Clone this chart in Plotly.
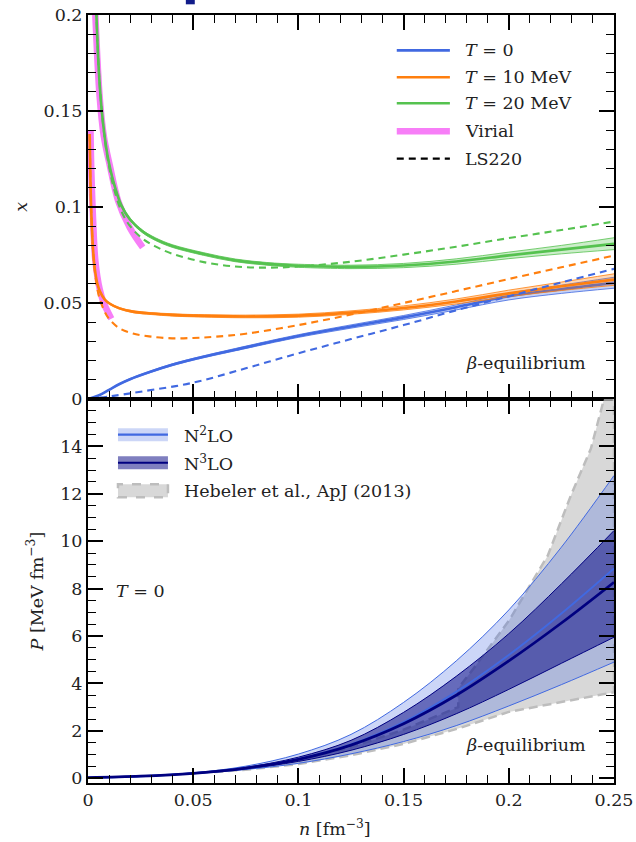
import plotly.graph_objects as go

# ---------------- upper panel: proton fraction x(n) ----------------
# T = 0
n_t0 = [0, 0.005, 0.01, 0.015, 0.02, 0.03, 0.04, 0.05, 0.07, 0.1, 0.125, 0.15, 0.175, 0.2, 0.225, 0.25]
x_t0 = [0, 0.0018, 0.0048, 0.0078, 0.0103, 0.0143, 0.0178, 0.0207, 0.0257, 0.0328, 0.0378, 0.0425, 0.0478, 0.0535, 0.0572, 0.0605]
x_t0_lo = [0, 0.0017, 0.0046, 0.0075, 0.0100, 0.0139, 0.0173, 0.0202, 0.0251, 0.0321, 0.0369, 0.0414, 0.0464, 0.0516, 0.0550, 0.0577]
x_t0_hi = [0, 0.0019, 0.0050, 0.0081, 0.0107, 0.0147, 0.0183, 0.0212, 0.0263, 0.0335, 0.0386, 0.0435, 0.0490, 0.0551, 0.0593, 0.0634]

# T = 10 MeV
n_t10 = [0.0008, 0.0012, 0.0016, 0.0024, 0.0032, 0.0045, 0.0056, 0.008, 0.0104, 0.015, 0.0213, 0.03, 0.04, 0.05, 0.075, 0.1, 0.125, 0.15, 0.175, 0.2, 0.225, 0.25]
x_t10 = [0.138, 0.112, 0.096, 0.0780, 0.0680, 0.0598, 0.0562, 0.0518, 0.0496, 0.0472, 0.0455, 0.0445, 0.0438, 0.0434, 0.0430, 0.0434, 0.0450, 0.0474, 0.0508, 0.0550, 0.0587, 0.0622]
x_t10_lo = [0.138, 0.112, 0.096, 0.0779, 0.0678, 0.0596, 0.0559, 0.0515, 0.0492, 0.0468, 0.0450, 0.0440, 0.0432, 0.0428, 0.0423, 0.0426, 0.0441, 0.0464, 0.0495, 0.0533, 0.0565, 0.0592]
x_t10_hi = [0.138, 0.112, 0.096, 0.0781, 0.0682, 0.0600, 0.0565, 0.0521, 0.0500, 0.0476, 0.0460, 0.0450, 0.0444, 0.0440, 0.0437, 0.0442, 0.0459, 0.0485, 0.0521, 0.0567, 0.0609, 0.0652]

# T = 20 MeV
n_t20 = [0.0036, 0.004, 0.005, 0.0063, 0.008, 0.0095, 0.012, 0.0158, 0.02, 0.026, 0.032, 0.04, 0.055, 0.07, 0.085, 0.1, 0.125, 0.15, 0.175, 0.2, 0.225, 0.25]
x_t20 = [0.215, 0.200, 0.174, 0.153, 0.136, 0.1255, 0.1135, 0.1010, 0.0935, 0.0872, 0.0833, 0.0797, 0.0755, 0.0722, 0.0704, 0.0694, 0.0688, 0.0695, 0.0716, 0.0748, 0.0778, 0.0808]
x_t20_lo = [0.215, 0.200, 0.173, 0.152, 0.135, 0.1248, 0.1128, 0.1003, 0.0928, 0.0865, 0.0826, 0.0790, 0.0748, 0.0715, 0.0697, 0.0686, 0.0679, 0.0684, 0.0702, 0.0731, 0.0756, 0.0778]
x_t20_hi = [0.215, 0.200, 0.175, 0.154, 0.137, 0.1262, 0.1142, 0.1017, 0.0942, 0.0879, 0.0840, 0.0804, 0.0762, 0.0729, 0.0711, 0.0702, 0.0697, 0.0706, 0.0730, 0.0765, 0.0800, 0.0840]

# LS220
n_ls0 = [0, 0.01, 0.025, 0.05, 0.075, 0.1, 0.125, 0.15, 0.175, 0.2, 0.225, 0.25]
x_ls0 = [0, 0.0013, 0.0038, 0.0085, 0.0160, 0.0238, 0.0312, 0.0385, 0.0462, 0.0535, 0.0607, 0.0678]
n_ls10 = [0.0008, 0.0012, 0.0016, 0.0024, 0.0032, 0.0045, 0.0056, 0.008, 0.0104, 0.015, 0.0213, 0.03, 0.04, 0.05, 0.06, 0.075, 0.1, 0.125, 0.15, 0.175, 0.2, 0.225, 0.25]
x_ls10 = [0.138, 0.112, 0.096, 0.0775, 0.0668, 0.0570, 0.0520, 0.0453, 0.0412, 0.0368, 0.0341, 0.0325, 0.0316, 0.0318, 0.0324, 0.0340, 0.0385, 0.0440, 0.0500, 0.0562, 0.0625, 0.0686, 0.0747]
n_ls20 = [0.0036, 0.004, 0.005, 0.0063, 0.008, 0.0095, 0.012, 0.0158, 0.02, 0.026, 0.032, 0.04, 0.055, 0.07, 0.085, 0.1, 0.125, 0.15, 0.175, 0.2, 0.225, 0.25]
x_ls20 = [0.215, 0.200, 0.174, 0.153, 0.135, 0.1240, 0.1110, 0.0980, 0.0900, 0.0835, 0.0795, 0.0757, 0.0713, 0.0690, 0.0684, 0.0690, 0.0715, 0.0752, 0.0793, 0.0838, 0.0880, 0.0924]

# Virial expansion
n_vir10 = [0.0012, 0.0016, 0.0024, 0.0035, 0.0056, 0.0075, 0.0111]
x_vir10 = [0.140, 0.118, 0.094, 0.072, 0.057, 0.050, 0.0418]
n_vir20 = [0.0031, 0.0035, 0.0055, 0.0075, 0.0104, 0.0143, 0.0198, 0.026]
x_vir20 = [0.212, 0.200, 0.158, 0.137, 0.1215, 0.1033, 0.0894, 0.079]

# ---------------- lower panel: pressure P(n), T = 0 ----------------
n_p = [0, 0.025, 0.05, 0.075, 0.1, 0.125, 0.15, 0.175, 0.2, 0.225, 0.25]
p_n3lo = [0.03, 0.09, 0.21, 0.43, 0.80, 1.40, 2.30, 3.50, 4.95, 6.55, 8.27]
p_n3lo_lo = [0.03, 0.09, 0.20, 0.40, 0.71, 1.18, 1.85, 2.72, 3.75, 4.85, 5.95]
p_n3lo_hi = [0.03, 0.09, 0.22, 0.46, 0.89, 1.60, 2.78, 4.30, 6.10, 8.20, 10.45]
p_n2lo = [0.03, 0.09, 0.21, 0.43, 0.81, 1.43, 2.37, 3.65, 5.20, 6.95, 8.85]
p_n2lo_lo = [0.03, 0.085, 0.19, 0.37, 0.63, 1.03, 1.55, 2.22, 3.05, 3.95, 4.90]
p_n2lo_hi = [0.03, 0.095, 0.23, 0.51, 1.02, 1.85, 3.20, 4.95, 7.10, 9.75, 12.77]

# Hebeler et al. (2013) band outline
n_heb_lo = [0.06, 0.075, 0.1, 0.125, 0.15, 0.176, 0.2, 0.225, 0.25]
p_heb_lo = [0.26, 0.36, 0.60, 0.97, 1.45, 2.10, 2.80, 3.20, 3.63]
n_heb_hi = [0.06, 0.075, 0.1, 0.125, 0.15, 0.176, 0.176, 0.185, 0.2, 0.2185, 0.2295, 0.239, 0.2445, 0.25]
p_heb_hi = [0.29, 0.42, 0.78, 1.30, 2.05, 3.00, 3.80, 4.83, 6.64, 9.39, 11.93, 13.90, 15.74, 17.60]

FONT = "DejaVu Serif"
FS = 17.5
BLUE = "#4169e1"
ORANGE = "#ff7f0e"
GREEN = "#55c24f"
VIOLET = "#f77ef7"
NAVY = "#000080"

fig = go.Figure()


def band(n, lo, hi, mid, color, fill, xa, ya, edge_w=0.8, mid_w=2.6):
    fig.add_trace(go.Scatter(x=n, y=lo, mode="lines", line=dict(color=color, width=edge_w, shape="spline"),
                             xaxis=xa, yaxis=ya, showlegend=False, hoverinfo="skip"))
    fig.add_trace(go.Scatter(x=n, y=hi, mode="lines", line=dict(color=color, width=edge_w, shape="spline"),
                             fill="tonexty", fillcolor=fill,
                             xaxis=xa, yaxis=ya, showlegend=False, hoverinfo="skip"))
    if mid is not None:
        fig.add_trace(go.Scatter(x=n, y=mid, mode="lines", line=dict(color=color, width=mid_w, shape="spline"),
                                 xaxis=xa, yaxis=ya, showlegend=False, hoverinfo="skip"))


def line(n, v, color, width, dash="solid", xa="x", ya="y"):
    fig.add_trace(go.Scatter(x=n, y=v, mode="lines",
                             line=dict(color=color, width=width, dash=dash, shape="spline"),
                             xaxis=xa, yaxis=ya, showlegend=False, hoverinfo="skip"))


# upper panel traces
line(n_vir10, x_vir10, VIOLET, 6.5)
line(n_vir20, x_vir20, VIOLET, 6.5)
band(n_t0, x_t0_lo, x_t0_hi, x_t0, BLUE, "rgba(65,105,225,0.3)", "x", "y")
band(n_t10, x_t10_lo, x_t10_hi, x_t10, ORANGE, "rgba(255,127,14,0.3)", "x", "y")
band(n_t20, x_t20_lo, x_t20_hi, x_t20, GREEN, "rgba(85,194,79,0.3)", "x", "y")
line(n_ls0, x_ls0, BLUE, 2.1, "7px,5px")
line(n_ls10, x_ls10, ORANGE, 2.1, "7px,5px")
line(n_ls20, x_ls20, GREEN, 2.1, "7px,5px")

# lower panel traces
fig.add_trace(go.Scatter(x=n_heb_lo + n_heb_hi[::-1] + n_heb_lo[:1], y=p_heb_lo + p_heb_hi[::-1] + p_heb_lo[:1],
                         mode="lines", fill="toself", fillcolor="rgba(200,200,200,0.7)",
                         line=dict(color="#bdbdbd", width=2.5, dash="9px,5px"),
                         xaxis="x2", yaxis="y2", showlegend=False, hoverinfo="skip"))
band(n_p, p_n2lo_lo, p_n2lo_hi, None, BLUE, "rgba(65,105,225,0.27)", "x2", "y2", edge_w=1)
band(n_p, p_n3lo_lo, p_n3lo_hi, None, NAVY, "rgba(0,0,128,0.5)", "x2", "y2", edge_w=1)
line(n_p, p_n2lo, BLUE, 2, xa="x2", ya="y2")
line(n_p, p_n3lo, NAVY, 2.8, xa="x2", ya="y2")

axis_common = dict(showline=True, linewidth=2, linecolor="black", mirror="allticks",
                   ticks="inside", ticklen=15, tickwidth=1.5, tickcolor="black",
                   showgrid=False, zeroline=False, automargin=False,
                   tickfont=dict(family=FONT, size=FS, color="#222"))
minor_common = dict(ticks="inside", ticklen=8, tickwidth=1.2, tickcolor="black")

fig.update_layout(
    width=636, height=842,
    margin=dict(l=88, r=22, t=15, b=59, autoexpand=False),
    paper_bgcolor="white", plot_bgcolor="white",
    showlegend=False,
    xaxis=dict(domain=[0, 1], anchor="y", range=[0, 0.25], dtick=0.05, showticklabels=False,
               minor=dict(dtick=0.01, **minor_common), matches="x2", **axis_common),
    yaxis=dict(domain=[0.5, 1], anchor="x", range=[0, 0.2], dtick=0.05,
               minor=dict(dtick=0.01, **minor_common), **axis_common),
    xaxis2=dict(domain=[0, 1], anchor="y2", range=[0, 0.25], dtick=0.05,
                minor=dict(dtick=0.01, **minor_common), **axis_common),
    yaxis2=dict(domain=[0, 0.5], anchor="x2", range=[-0.2, 16],
                tickvals=[0, 2, 4, 6, 8, 10, 12, 14],
                minor=dict(dtick=0.5, **minor_common), **axis_common),
)

txt = dict(family=FONT, size=FS, color="#222")
ann = []
shapes = []

# legend of the upper panel
leg_rows = [("<i>T</i> = 0", BLUE, 2.6, "solid"),
            ("<i>T</i> = 10 MeV", ORANGE, 2.6, "solid"),
            ("<i>T</i> = 20 MeV", GREEN, 2.6, "solid"),
            ("Virial", VIOLET, 6.5, "solid"),
            ("LS220", "black", 2.1, "7px,5px")]
leg_y = [0.908, 0.838, 0.770, 0.697, 0.626]
for (label, col, w, dash), yy in zip(leg_rows, leg_y):
    shapes.append(dict(type="line", xref="x domain", yref="y domain", x0=0.587, x1=0.688, y0=yy, y1=yy,
                       line=dict(color=col, width=w, dash=dash)))
    ann.append(dict(xref="x domain", yref="y domain", x=0.712, y=yy, text=label, showarrow=False,
                    xanchor="left", yanchor="middle", font=txt))

# legend of the lower panel
leg2 = [("N<sup>2</sup>LO", "rgba(65,105,225,0.27)", BLUE, None),
        ("N<sup>3</sup>LO", "rgba(0,0,128,0.5)", NAVY, None),
        ("Hebeler et al., ApJ (2013)", "rgba(200,200,200,0.7)", "#bdbdbd", "dash")]
leg2_y = [0.907, 0.834, 0.761]
for (label, fillc, col, kind), yy in zip(leg2, leg2_y):
    if kind is None:
        shapes.append(dict(type="rect", xref="x2 domain", yref="y2 domain", x0=0.057, x1=0.152,
                           y0=yy - 0.017, y1=yy + 0.017, fillcolor=fillc, line=dict(width=0)))
        shapes.append(dict(type="line", xref="x2 domain", yref="y2 domain", x0=0.057, x1=0.152,
                           y0=yy, y1=yy, line=dict(color=col, width=2.2)))
    else:
        shapes.append(dict(type="rect", xref="x2 domain", yref="y2 domain", x0=0.057, x1=0.152,
                           y0=yy - 0.017, y1=yy + 0.017, fillcolor=fillc,
                           line=dict(color=col, width=2.5, dash="dash")))
    ann.append(dict(xref="x2 domain", yref="y2 domain", x=0.178, y=yy, text=label, showarrow=False,
                    xanchor="left", yanchor="middle", font=txt))

ann.append(dict(xref="x domain", yref="y domain", x=0.951, y=0.095, text="<i>β</i>-equilibrium",
                showarrow=False, xanchor="right", yanchor="middle", font=txt))
ann.append(dict(xref="x2 domain", yref="y2 domain", x=0.951, y=0.098, text="<i>β</i>-equilibrium",
                showarrow=False, xanchor="right", yanchor="middle", font=txt))
ann.append(dict(xref="x2 domain", yref="y2 domain", x=0.05, y=0.501, text="<i>T</i> = 0",
                showarrow=False, xanchor="left", yanchor="middle", font=txt))

# axis titles
ann.append(dict(xref="paper", yref="paper", x=-0.128, y=0.75, text="<i>x</i>", textangle=-90,
                showarrow=False, xanchor="center", yanchor="middle", font=txt))
ann.append(dict(xref="paper", yref="paper", x=-0.100, y=0.25, text="<i>P</i> [MeV fm<sup>−3</sup>]",
                textangle=-90, showarrow=False, xanchor="center", yanchor="middle", font=txt))
ann.append(dict(xref="paper", yref="paper", x=0.469, y=-0.059, text="<i>n</i> [fm<sup>−3</sup>]",
                showarrow=False, xanchor="center", yanchor="middle", font=txt))

# small navy block at the top edge
shapes.append(dict(type="rect", xref="paper", yref="paper", x0=0.186, x1=0.203, y0=1.0139, y1=1.03,
                   fillcolor="#111c8a", line=dict(width=0)))

fig.update_layout(annotations=ann, shapes=shapes)
fig.write_html("out.html")
